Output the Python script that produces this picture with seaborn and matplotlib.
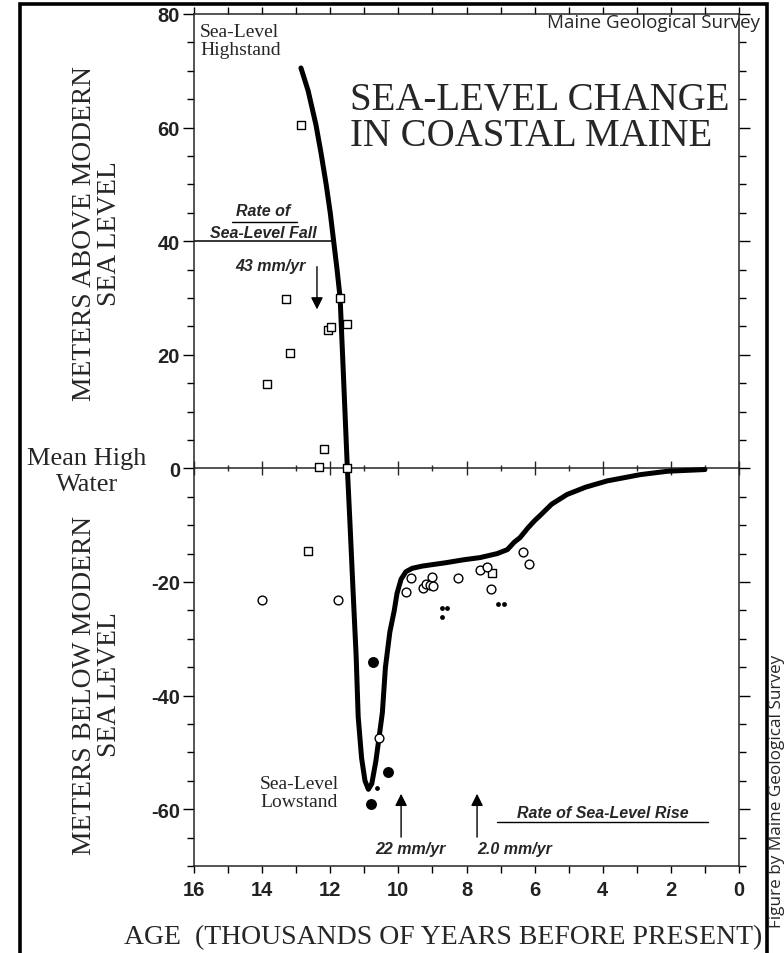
import matplotlib
matplotlib.use("Agg")
import matplotlib.pyplot as plt
import seaborn as sns
import pandas as pd
from matplotlib.ticker import MultipleLocator
from matplotlib.patches import Rectangle
from matplotlib.lines import Line2D

### Datos leidos de la figura
# curva de nivel del mar (miles de anos, metros)
curve_age = [12.86, 12.65, 12.42, 12.27, 12.12, 12.00, 11.92, 11.80, 11.71,
             11.62, 11.50, 11.42, 11.33, 11.24, 11.18, 11.08, 10.98, 10.88, 10.78,
             10.66, 10.57, 10.47, 10.38, 10.25, 10.12, 10.04, 9.92, 9.78, 9.60,
             9.30, 9.07, 8.60, 8.10, 7.60, 7.10, 6.80, 6.60, 6.43, 6.20,
             6.00, 5.84, 5.50, 5.05, 4.50, 3.87, 2.90, 2.10, 1.00]
curve_m = [70.5, 66.5, 60.5, 55.5, 50.0, 45.0, 41.0, 35.0, 30.0,
           17.4, 0.3, -9.8, -21.6, -33.0, -43.7, -51.0, -55.0, -56.5, -55.5,
           -51.5, -47.5, -43.0, -35.0, -28.8, -25.0, -22.0, -19.5, -18.2, -17.6,
           -17.2, -17.0, -16.6, -16.1, -15.7, -15.0, -14.3, -13.0, -12.2, -10.5,
           -9.2, -8.3, -6.3, -4.6, -3.3, -2.2, -1.1, -0.5, -0.2]

# cuadrados abiertos
sq_age = [12.86, 13.30, 11.71, 12.07, 11.98, 11.50, 13.18, 13.86, 12.18, 12.33, 11.51, 12.65, 7.25]
sq_m = [60.5, 29.8, 30.0, 24.4, 24.9, 25.4, 20.3, 14.9, 3.5, 0.2, 0.0, -14.5, -18.4]

# circulos abiertos
circ_age = [14.0, 11.77, 10.57, 9.78, 9.63, 9.28, 9.19, 9.07, 9.01, 8.98, 8.25, 7.60, 7.40, 7.28, 6.34, 6.16]
circ_m = [-23.2, -23.2, -47.5, -21.8, -19.3, -21.0, -20.4, -20.5, -19.1, -20.7, -19.3, -17.9, -17.3, -21.2, -14.8, -16.8]

# puntos rellenos grandes y pequenos
dot_age = [10.74, 10.30, 10.80]
dot_m = [-34.1, -53.4, -59.1]
small_age = [10.63, 8.72, 8.57, 8.72, 7.07, 6.90]
small_m = [-56.3, -24.5, -24.5, -26.1, -23.8, -23.8]

# flechas de tasas
fall_arrow = (12.39, 36.0, 27.5)
rise_arrows = [9.92, 7.69]
rise_from, rise_to = -65.4, -56.8

xticks = list(range(0, 17, 2))
yticks = list(range(-60, 81, 20))

### Grafica
sns.set_style("ticks")
plt.rcParams["axes.unicode_minus"] = False
plt.rcParams["font.family"] = ["Liberation Serif", "DejaVu Serif"]

W, H = 784, 954
fig = plt.figure(figsize=(W / 100, H / 100), dpi=100)
ax = fig.add_axes([194 / W, 1 - 867 / H, (739 - 194) / W, (867 - 15) / H])

def fx(px):
    return px / W

def fy(py):
    return 1 - py / H

curve = pd.DataFrame({"age": curve_age, "m": curve_m})
sns.lineplot(data=curve, x="age", y="m", sort=False, estimator=None,
             color="black", linewidth=3.6, ax=ax, zorder=3)

squares = pd.DataFrame({"age": sq_age, "m": sq_m})
sns.scatterplot(data=squares, x="age", y="m", marker="s", s=26, facecolor="white",
                edgecolor="black", linewidth=1.0, ax=ax, zorder=4)
circles = pd.DataFrame({"age": circ_age, "m": circ_m})
sns.scatterplot(data=circles, x="age", y="m", marker="o", s=40, facecolor="white",
                edgecolor="black", linewidth=1.0, ax=ax, zorder=4)
dots = pd.DataFrame({"age": dot_age, "m": dot_m})
sns.scatterplot(data=dots, x="age", y="m", marker="o", s=62, color="black",
                linewidth=0, ax=ax, zorder=4)
small = pd.DataFrame({"age": small_age, "m": small_m})
sns.scatterplot(data=small, x="age", y="m", marker="o", s=12, color="black",
                linewidth=0, ax=ax, zorder=4)

ax.set_xlim(16, 0)
ax.set_ylim(-70, 80)
ax.set_xticks(xticks)
ax.set_yticks(yticks)
ax.xaxis.set_minor_locator(MultipleLocator(1))
ax.yaxis.set_minor_locator(MultipleLocator(5))
ax.set_xlabel("")
ax.set_ylabel("")
for sp in ax.spines.values():
    sp.set_linewidth(1.1)
    sp.set_visible(True)
ax.tick_params(which="both", direction="out", top=True, right=True,
               labeltop=False, labelright=False, width=1.0, color="black")
ax.tick_params(which="major", length=8, pad=2)
ax.tick_params(which="minor", length=5)
ax.tick_params(axis="x", which="both", length=5)
for lab in ax.get_xticklabels() + ax.get_yticklabels():
    lab.set_fontfamily("Liberation Sans")
    lab.set_fontweight("bold")
    lab.set_fontsize(14.5)
    lab.set_color("#222222")
ax.tick_params(axis="x", pad=5)

# linea de marea alta media con marcas
ymin, ymax = ax.get_ylim()
zero = ax.secondary_xaxis((0 - ymin) / (ymax - ymin))
zero.set_xticks(xticks)
zero.xaxis.set_minor_locator(MultipleLocator(1))
zero.tick_params(which="both", direction="inout", labelbottom=False, width=1.0)
zero.tick_params(which="major", length=10)
zero.tick_params(which="minor", length=5)
zero.spines["bottom"].set_linewidth(1.1)

# tasa de descenso
ax.plot([16, 11.9], [40, 40], color="black", lw=1.1, zorder=2)
ax.annotate("", xy=(fall_arrow[0], fall_arrow[2]), xytext=(fall_arrow[0], fall_arrow[1]),
            arrowprops=dict(arrowstyle="-|>", color="black", lw=1.0, mutation_scale=18))
for a in rise_arrows:
    ax.annotate("", xy=(a, rise_to), xytext=(a, rise_from),
                arrowprops=dict(arrowstyle="-|>", color="black", lw=1.0, mutation_scale=18))

ital = dict(family="Liberation Sans", style="italic", weight="bold", fontsize=11.5,
            ha="center", va="center")
fig.text(fx(263), fy(212), "Rate of", **ital)
fig.add_artist(Line2D([fx(232), fx(297)], [fy(223), fy(223)], color="black", lw=1.0))
fig.text(fx(263), fy(233), "Sea-Level Fall", **ital)
fig.text(fx(270), fy(266), "43 mm/yr", **ital)
fig.text(fx(603), fy(813), "Rate of Sea-Level Rise", **ital)
fig.add_artist(Line2D([fx(497), fx(708)], [fy(823), fy(823)], color="black", lw=1.0))
fig.text(fx(410), fy(850), "22 mm/yr", **ital)
fig.text(fx(515), fy(850), "2.0 mm/yr", **ital)

# textos
fig.text(fx(200), fy(24), "Sea-Level\nHighstand", fontsize=14, ha="left", va="top",
         linespacing=1.1)
fig.text(fx(260), fy(776), "Sea-Level\nLowstand", fontsize=14, ha="left", va="top",
         linespacing=1.1)
fig.text(fx(350), fy(82), "SEA-LEVEL CHANGE\nIN COASTAL MAINE", fontsize=28,
         ha="left", va="top", linespacing=0.95)
fig.text(fx(97), fy(234), "METERS ABOVE MODERN\nSEA LEVEL", fontsize=19.8, rotation=90,
         ha="center", va="center", multialignment="center", linespacing=1.05)
fig.text(fx(97), fy(685), "METERS BELOW MODERN\nSEA LEVEL", fontsize=19.8, rotation=90,
         ha="center", va="center", multialignment="center", linespacing=1.05)
fig.text(fx(87), fy(472), "Mean High\nWater", fontsize=19, ha="center", va="center",
         multialignment="center", linespacing=1.2)
fig.text(fx(443), fy(938), "AGE  (THOUSANDS OF YEARS BEFORE PRESENT)", fontsize=20,
         ha="center", va="center")
fig.text(fx(760), fy(23), "Maine Geological Survey", family="Open Sans", fontsize=13.5,
         ha="right", va="center")
fig.text(fx(777), fy(655), "Figure by Maine Geological Survey", family="Open Sans",
         fontsize=12.3, rotation=90, ha="center", va="top")

# marco exterior
fig.add_artist(Rectangle((fx(20), -0.05), fx(767) - fx(20), fy(5) + 0.05,
                         transform=fig.transFigure, fill=False, lw=2.6, ec="black"))

fig.savefig("out.png", dpi=100)
